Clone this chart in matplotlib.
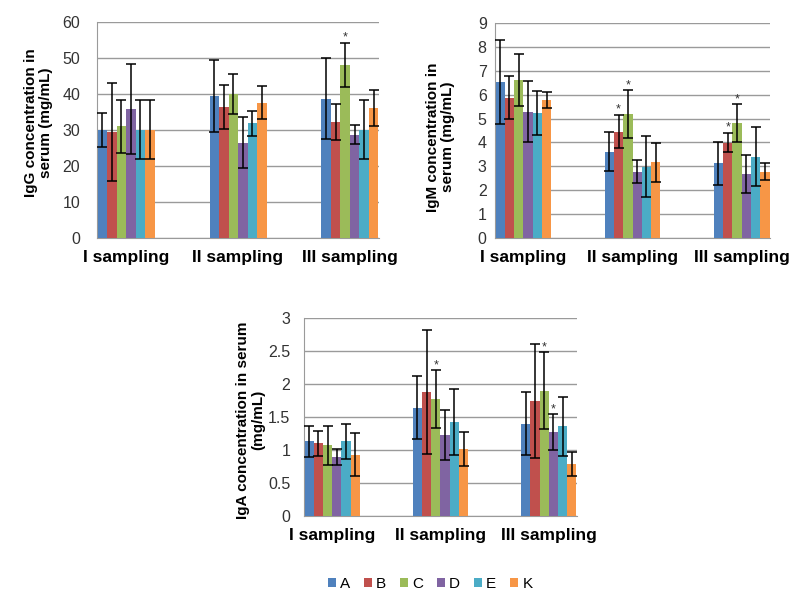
import matplotlib
matplotlib.use("Agg")
import matplotlib.pyplot as plt
from matplotlib.patches import Patch
import numpy as np

plt.rcParams["font.family"] = ["Liberation Sans", "DejaVu Sans"]

groups = ["A", "B", "C", "D", "E", "K"]
colors = ["#4F81BD", "#C0504D", "#9BBB59", "#8064A2", "#4BACC6", "#F79646"]
samplings = ["I sampling", "II sampling", "III sampling"]

# rows = groups A..K, columns = sampling I..III
igg_mean = [
    [30.1, 39.4, 38.7],
    [29.4, 36.4, 32.1],
    [31.0, 39.9, 48.0],
    [35.7, 26.5, 28.7],
    [30.1, 31.8, 30.1],
    [30.1, 37.6, 36.2],
]
igg_sd = [
    [4.7, 10.1, 11.2],
    [13.6, 6.1, 5.0],
    [7.3, 5.6, 6.2],
    [12.5, 7.1, 2.6],
    [8.3, 3.4, 8.3],
    [8.2, 4.6, 5.0],
]
igg_star = [
    [0, 0, 0],
    [0, 0, 0],
    [0, 0, 1],
    [0, 0, 0],
    [0, 0, 0],
    [0, 0, 0],
]

igm_mean = [
    [6.54, 3.62, 3.13],
    [5.88, 4.45, 3.99],
    [6.62, 5.19, 4.80],
    [5.28, 2.78, 2.68],
    [5.24, 2.99, 3.41],
    [5.77, 3.17, 2.78],
]
igm_sd = [
    [1.77, 0.83, 0.90],
    [0.91, 0.70, 0.41],
    [1.10, 1.00, 0.80],
    [1.28, 0.49, 0.81],
    [0.93, 1.27, 1.25],
    [0.33, 0.82, 0.37],
]
igm_star = [
    [0, 0, 0],
    [0, 1, 1],
    [0, 1, 1],
    [0, 0, 0],
    [0, 0, 0],
    [0, 0, 0],
]

iga_mean = [
    [1.13, 1.64, 1.40],
    [1.10, 1.88, 1.74],
    [1.07, 1.77, 1.90],
    [0.89, 1.23, 1.27],
    [1.13, 1.42, 1.36],
    [0.93, 1.01, 0.79],
]
iga_sd = [
    [0.23, 0.48, 0.48],
    [0.19, 0.94, 0.86],
    [0.30, 0.44, 0.58],
    [0.12, 0.38, 0.27],
    [0.27, 0.50, 0.45],
    [0.32, 0.26, 0.18],
]
iga_star = [
    [0, 0, 0],
    [0, 0, 0],
    [0, 1, 1],
    [0, 0, 1],
    [0, 0, 0],
    [0, 0, 0],
]


def draw_panel(ax, means, sds, stars, ymax, ystep, ylabel, label_xy, ypad, ticklabels):
    x = np.arange(len(samplings))
    width = 0.085
    n = len(groups)
    for i in range(n):
        pos = x + (i - (n - 1) / 2) * width
        ax.bar(pos, means[i], width, color=colors[i], zorder=3)
        ax.errorbar(pos, means[i], yerr=sds[i], fmt="none", ecolor="black",
                    elinewidth=1.1, capsize=3.5, capthick=1.1, zorder=4)
        for j in range(len(samplings)):
            if stars[i][j]:
                ax.annotate("*", (pos[j], means[i][j] + sds[i][j]),
                            xytext=(0, 1.5), textcoords="offset points",
                            ha="center", va="baseline", fontsize=9, color="#333333")

    ax.set_xlim(-0.26, 2.26)
    ax.set_ylim(0, ymax)
    ax.set_yticks(np.arange(0, ymax + ystep / 2, ystep))
    ax.set_yticklabels(ticklabels)
    ax.set_xticks(x)
    ax.set_xticklabels(samplings, fontsize=12.5, fontweight="bold")
    ax.tick_params(axis="y", length=0, pad=ypad, labelsize=11.5, labelcolor="#333333")
    ax.tick_params(axis="x", length=0, pad=8.5)
    ax.yaxis.grid(True, color="#9a9a9a", linewidth=1.0, zorder=0)
    ax.set_axisbelow(True)
    for s in ["top", "right"]:
        ax.spines[s].set_visible(False)
    ax.spines["left"].set_color("#9a9a9a")
    ax.spines["bottom"].set_color("#9a9a9a")
    ax.set_ylabel(ylabel, fontsize=11, fontweight="bold", linespacing=1.1)
    ax.yaxis.set_label_coords(*label_xy)


fig = plt.figure(figsize=(7.98, 6.07), dpi=100)

ax1 = fig.add_axes([0.1216, 0.608, 0.3534, 0.3558])
draw_panel(ax1, igg_mean, igg_sd, igg_star, 60, 10,
           "IgG concentration in\nserum (mg/mL)", (-0.156, 0.535), 12,
           ["0", "10", "20", "30", "40", "50", "60"])

ax2 = fig.add_axes([0.6203, 0.608, 0.3447, 0.354])
draw_panel(ax2, igm_mean, igm_sd, igm_star, 9, 1,
           "IgM concentration in\nserum (mg/mL)", (-0.145, 0.47), 6,
           [str(v) for v in range(10)])

ax3 = fig.add_axes([0.381, 0.150, 0.342, 0.326])
draw_panel(ax3, iga_mean, iga_sd, iga_star, 3, 0.5,
           "IgA concentration in serum\n(mg/mL)", (-0.143, 0.485), 10,
           ["0", "0.5", "1", "1.5", "2", "2.5", "3"])

handles = [Patch(facecolor=c, edgecolor="none") for c in colors]
fig.legend(handles, groups, loc="center", bbox_to_anchor=(0.539, 0.038), ncol=6,
           frameon=False, handlelength=0.55, handleheight=0.55, handletextpad=0.25,
           columnspacing=0.9, fontsize=11)

fig.savefig("out.png", dpi=100, facecolor="white")
